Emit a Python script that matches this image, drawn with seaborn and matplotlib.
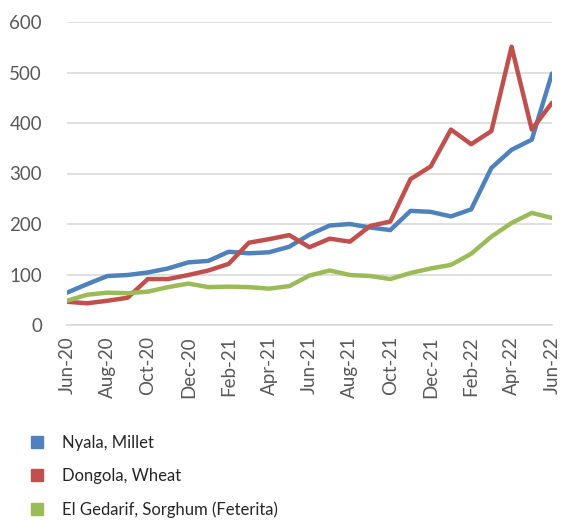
import matplotlib
matplotlib.use("Agg")
import matplotlib.pyplot as plt
from matplotlib.lines import Line2D
import seaborn as sns
import pandas as pd

months = pd.date_range("2020-06-01", "2022-06-01", freq="MS")

nyala_millet = [64, 81, 97, 99, 104, 112, 124, 127, 145, 142, 144, 155, 179,
                197, 200, 193, 188, 226, 224, 215, 229, 311, 347, 367, 498]
dongola_wheat = [46, 43, 48, 54, 91, 91, 99, 108, 121, 163, 170, 178, 154,
                 171, 165, 196, 205, 289, 314, 387, 358, 384, 551, 387, 440]
gedarif_sorghum = [48, 60, 64, 63, 66, 75, 82, 75, 76, 75, 72, 77, 98,
                   108, 99, 97, 91, 103, 112, 119, 141, 175, 202, 222, 212]

series_names = ["Nyala, Millet", "Dongola, Wheat", "El Gedarif, Sorghum (Feterita)"]
colors = ["#4F81BD", "#C0504D", "#9BBB59"]

df = pd.DataFrame({
    "month": list(months) * 3,
    "price": nyala_millet + dongola_wheat + gedarif_sorghum,
    "series": [s for s in series_names for _ in range(len(months))],
})
df["idx"] = list(range(len(months))) * 3

sns.set_style("white")
plt.rcParams["font.family"] = ["Lato", "DejaVu Sans"]
text_color = "#595959"

fig = plt.figure(figsize=(5.61, 5.21), dpi=100)
ax = fig.add_axes([67 / 561, 1 - 325 / 521, 485 / 561, 303 / 521])

sns.lineplot(data=df, x="idx", y="price", hue="series", palette=colors,
             hue_order=series_names, linewidth=3.2, ax=ax, legend=False)

ax.set_ylim(0, 600)
ax.set_xlim(0, len(months) - 1)
ax.set_yticks(range(0, 601, 100))
ax.yaxis.grid(True, color="#D9D9D9", linewidth=1.2)
ax.set_axisbelow(True)
for side in ["top", "right", "left"]:
    ax.spines[side].set_visible(False)
ax.spines["bottom"].set_color("#D9D9D9")
ax.spines["bottom"].set_linewidth(1.2)

tick_pos = list(range(0, len(months), 2))
ax.set_xticks(tick_pos)
ax.set_xticklabels([months[i].strftime("%b-%y") for i in tick_pos],
                   rotation=90)
ax.tick_params(axis="x", length=5, color="#D9D9D9", width=1.2,
               labelsize=13.5, labelcolor=text_color, pad=3)
ax.tick_params(axis="y", length=0, labelsize=13.5, labelcolor=text_color, pad=18)
ax.set_xlabel("")
ax.set_ylabel("")

handles = [Line2D([], [], marker="s", linestyle="", markersize=8,
                  markerfacecolor=c, markeredgecolor=c) for c in colors]
fig.legend(handles, series_names, loc="upper left",
           bbox_to_anchor=(14 / 561, 1 - 428 / 521), frameon=False,
           fontsize=12, labelcolor="#262626", handletextpad=0.5,
           labelspacing=1.05, borderaxespad=0)

fig.savefig("out.png", dpi=100)
